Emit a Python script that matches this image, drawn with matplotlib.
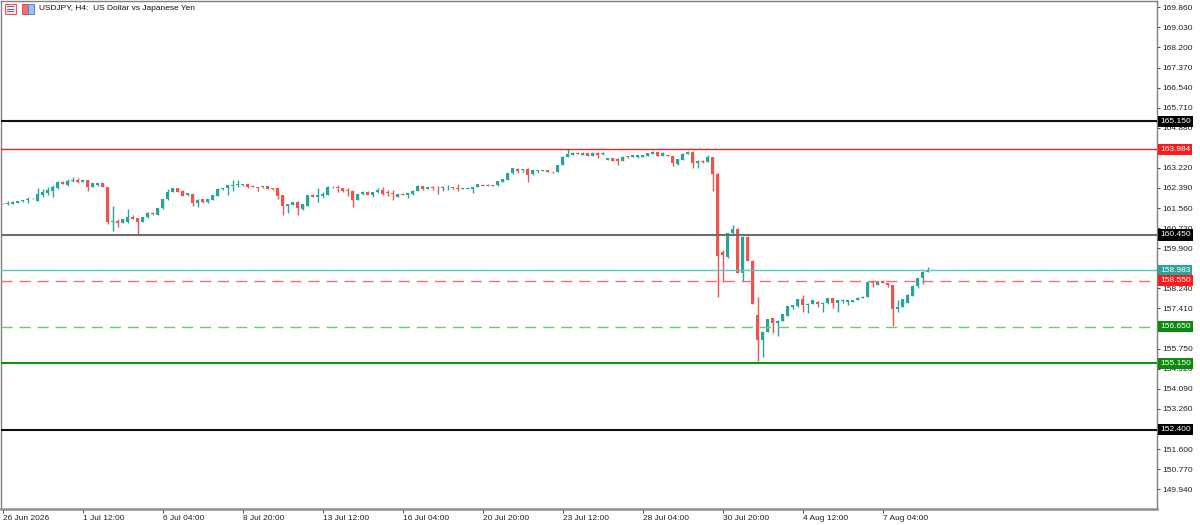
"""
USDJPY H4 candles with support / resistance levels, drawn the way the
trading terminal shows them.
"""

import numpy as np
import matplotlib
matplotlib.use("Agg")
import matplotlib.pyplot as plt
from matplotlib.patches import Rectangle
from matplotlib.transforms import blended_transform_factory


TITLE = "USDJPY, H4:  US Dollar vs Japanese Yen"

# OHLC of every H4 bar, oldest first
OPENS = [
    161.77, 161.72, 161.74, 161.79, 161.84, 161.88, 161.96, 161.87, 162.12, 162.17,
    162.28, 162.38, 162.64, 162.52, 162.68, 162.72, 162.65, 162.71, 162.45, 162.50,
    162.59, 162.42, 160.99, 161.04, 160.96, 161.00, 161.18, 161.14, 161.00, 161.18,
    161.37, 161.28, 161.55, 161.92, 162.24, 162.38, 162.27, 162.09, 162.13, 161.76,
    161.92, 161.81, 161.90, 162.06, 162.34, 162.37, 162.49, 162.50, 162.50, 162.54,
    162.49, 162.43, 162.42, 162.46, 162.40, 162.39, 162.10, 161.65, 161.68, 161.83,
    161.51, 161.66, 162.12, 162.03, 162.06, 162.10, 162.46, 162.45, 162.38, 162.31,
    162.28, 161.90, 162.13, 162.24, 162.12, 162.21, 162.31, 162.24, 162.20, 162.03,
    162.16, 162.09, 162.13, 162.27, 162.47, 162.35, 162.42, 162.45, 162.41, 162.42,
    162.42, 162.41, 162.34, 162.34, 162.34, 162.45, 162.53, 162.48, 162.52, 162.50,
    162.65, 162.72, 162.99, 163.18, 163.14, 163.18, 162.96, 163.10, 163.11, 163.14,
    163.07, 163.07, 163.33, 163.69, 163.75, 163.85, 163.75, 163.82, 163.73, 163.85,
    163.78, 163.55, 163.62, 163.59, 163.52, 163.71, 163.69, 163.66, 163.69, 163.73,
    163.80, 163.87, 163.71, 163.75, 163.71, 163.38, 163.55, 163.80, 163.89, 163.41,
    163.51, 163.48, 163.66, 162.97, 159.75, 159.55, 160.52, 160.70, 158.89, 160.38,
    159.39, 157.14, 156.11, 156.45, 157.00, 156.82, 156.90, 157.11, 157.48, 157.51,
    157.80, 157.55, 157.60, 157.69, 157.58, 157.62, 157.83, 157.62, 157.71, 157.69,
    157.69, 157.76, 157.86, 157.90, 158.55, 158.38, 158.55, 158.45, 158.38, 157.37,
    157.48, 157.65, 157.93, 158.34, 158.66, 158.92,
]
HIGHS = [
    161.78, 161.84, 161.85, 161.87, 161.91, 162.01, 161.99, 162.38, 162.34, 162.45,
    162.52, 162.66, 162.66, 162.75, 162.83, 162.79, 162.72, 162.73, 162.60, 162.60,
    162.60, 162.44, 161.65, 161.12, 161.12, 161.51, 161.28, 161.16, 161.19, 161.41,
    161.39, 161.57, 161.93, 162.34, 162.40, 162.40, 162.29, 162.19, 162.15, 161.92,
    161.94, 161.93, 162.12, 162.37, 162.39, 162.52, 162.72, 162.70, 162.56, 162.56,
    162.50, 162.44, 162.48, 162.48, 162.41, 162.40, 162.12, 161.74, 161.82, 161.84,
    161.73, 162.08, 162.13, 162.38, 162.24, 162.46, 162.48, 162.50, 162.39, 162.38,
    162.30, 162.15, 162.26, 162.26, 162.23, 162.38, 162.42, 162.31, 162.31, 162.15,
    162.17, 162.18, 162.29, 162.50, 162.49, 162.44, 162.48, 162.46, 162.48, 162.52,
    162.43, 162.56, 162.39, 162.41, 162.43, 162.56, 162.54, 162.54, 162.53, 162.69,
    162.76, 163.00, 163.21, 163.20, 163.19, 163.20, 163.15, 163.15, 163.15, 163.15,
    163.08, 163.36, 163.70, 163.99, 163.87, 163.87, 163.87, 163.84, 163.87, 163.87,
    163.87, 163.64, 163.64, 163.61, 163.71, 163.73, 163.77, 163.77, 163.77, 163.84,
    163.91, 163.89, 163.87, 163.77, 163.73, 163.59, 163.82, 163.91, 163.91, 163.54,
    163.53, 163.75, 163.68, 162.99, 159.83, 160.55, 160.86, 160.72, 160.40, 160.40,
    159.41, 157.90, 156.47, 156.98, 157.02, 156.92, 157.20, 157.53, 157.57, 157.82,
    157.97, 157.62, 157.78, 157.71, 157.67, 157.85, 157.85, 157.78, 157.79, 157.78,
    157.78, 157.88, 157.92, 158.54, 158.57, 158.55, 158.57, 158.47, 158.40, 157.76,
    157.81, 157.99, 158.36, 158.68, 158.95, 159.11,
]
LOWS = [
    161.74, 161.69, 161.73, 161.78, 161.83, 161.79, 161.94, 161.87, 162.03, 162.08,
    162.03, 162.36, 162.54, 162.47, 162.65, 162.61, 162.64, 162.28, 162.44, 162.49,
    162.44, 160.90, 160.63, 160.79, 160.94, 160.96, 161.10, 160.49, 160.98, 161.15,
    161.28, 161.27, 161.53, 161.90, 162.23, 162.22, 162.05, 162.07, 161.66, 161.62,
    161.79, 161.79, 161.88, 162.04, 162.32, 162.08, 162.28, 162.45, 162.49, 162.41,
    162.44, 162.27, 162.41, 162.33, 162.32, 161.92, 161.28, 161.37, 161.67, 161.28,
    161.50, 161.65, 162.00, 161.83, 161.97, 162.09, 162.38, 162.24, 162.21, 162.06,
    161.62, 161.88, 162.12, 162.09, 162.01, 162.17, 162.10, 162.06, 161.90, 162.01,
    162.09, 161.97, 162.12, 162.25, 162.32, 162.34, 162.31, 162.13, 162.28, 162.31,
    162.34, 162.28, 162.33, 162.33, 162.17, 162.44, 162.47, 162.47, 162.46, 162.49,
    162.64, 162.71, 162.98, 163.03, 163.04, 162.65, 162.94, 163.00, 163.10, 163.06,
    163.03, 163.06, 163.32, 163.69, 163.74, 163.79, 163.74, 163.70, 163.72, 163.62,
    163.77, 163.53, 163.50, 163.34, 163.50, 163.64, 163.68, 163.65, 163.68, 163.72,
    163.79, 163.70, 163.70, 163.70, 163.30, 163.36, 163.53, 163.79, 163.20, 163.23,
    163.44, 163.46, 162.28, 157.90, 158.52, 159.50, 160.50, 158.87, 158.56, 159.37,
    157.58, 155.25, 155.42, 156.43, 156.41, 156.27, 156.88, 157.09, 157.40, 157.49,
    157.28, 157.21, 157.58, 157.48, 157.28, 157.60, 157.42, 157.28, 157.62, 157.55,
    157.67, 157.74, 157.84, 157.88, 158.31, 158.36, 158.46, 158.31, 156.69, 157.28,
    157.46, 157.63, 157.91, 158.24, 158.42, 158.90,
]
CLOSES = [
    161.76, 161.79, 161.83, 161.85, 161.90, 161.95, 161.97, 162.14, 162.24, 162.31,
    162.42, 162.65, 162.56, 162.68, 162.72, 162.64, 162.71, 162.45, 162.59, 162.59,
    162.45, 161.00, 161.01, 160.96, 161.11, 161.18, 161.12, 161.00, 161.18, 161.34,
    161.30, 161.55, 161.92, 162.24, 162.38, 162.24, 162.06, 162.17, 161.76, 161.90,
    161.81, 161.92, 162.10, 162.35, 162.38, 162.50, 162.52, 162.56, 162.54, 162.42,
    162.45, 162.41, 162.47, 162.34, 162.34, 162.06, 161.65, 161.73, 161.81, 161.55,
    161.73, 162.08, 162.01, 162.09, 162.13, 162.45, 162.47, 162.38, 162.28, 162.27,
    161.90, 162.13, 162.24, 162.10, 162.23, 162.31, 162.13, 162.17, 162.14, 162.14,
    162.10, 162.17, 162.28, 162.49, 162.34, 162.43, 162.41, 162.42, 162.45, 162.45,
    162.38, 162.34, 162.38, 162.40, 162.42, 162.54, 162.49, 162.53, 162.47, 162.68,
    162.75, 162.99, 163.20, 163.11, 163.18, 162.93, 163.14, 163.14, 163.14, 163.07,
    163.04, 163.34, 163.68, 163.78, 163.85, 163.80, 163.85, 163.71, 163.85, 163.75,
    163.85, 163.62, 163.52, 163.51, 163.69, 163.66, 163.75, 163.75, 163.75, 163.82,
    163.89, 163.71, 163.85, 163.71, 163.41, 163.57, 163.80, 163.89, 163.41, 163.52,
    163.45, 163.69, 162.97, 159.58, 159.60, 160.52, 160.70, 158.89, 160.38, 159.39,
    157.60, 156.11, 156.45, 156.96, 156.82, 156.90, 157.18, 157.51, 157.55, 157.80,
    157.55, 157.60, 157.76, 157.58, 157.65, 157.83, 157.62, 157.76, 157.72, 157.76,
    157.76, 157.86, 157.90, 158.52, 158.48, 158.52, 158.48, 158.38, 157.37, 157.48,
    157.79, 157.97, 158.34, 158.66, 158.93, 158.98,
]

# time axis labels, one every 16 bars
DATE_LABELS = [
    "26 Jun 2026", "1 Jul 12:00", "6 Jul 04:00", "8 Jul 20:00",
    "13 Jul 12:00", "16 Jul 04:00", "20 Jul 20:00", "23 Jul 12:00",
    "28 Jul 04:00", "30 Jul 20:00", "4 Aug 12:00", "7 Aug 04:00",
]
DATE_STEP = 16

PRICE_TICKS = [
    169.860, 169.030, 168.200, 167.370, 166.540, 165.710, 164.880, 164.050,
    163.220, 162.390, 161.560, 160.730, 159.900, 159.070, 158.240, 157.410,
    156.580, 155.750, 154.920, 154.090, 153.260, 152.430, 151.600, 150.770,
    149.940,
]
# the terminal hides these scale labels behind the level boxes
HIDDEN_TICKS = [164.050, 159.070, 156.580, 152.430]

# horizontal levels drawn over the chart
LEVELS = [165.150, 163.984, 160.450, 158.983, 158.550, 156.650, 155.150, 152.400]

# styles for the levels above: line colour, width, dashed, label box colour
LEVEL_STYLES = [
    ("#111111", 1.5, False, "#000000"),
    ("#ee2222", 1.0, False, "#ff1a1a"),
    ("#6e6e6e", 1.5, False, "#000000"),
    ("#5cc6ba", 1.0, False, "#26a69a"),
    ("#f07070", 1.0, True, "#ff1a1a"),
    ("#70c870", 1.0, True, "#0b8a0b"),
    ("#119011", 1.5, False, "#0b8a0b"),
    ("#111111", 1.5, False, "#000000"),
]

GREEN = "#26a69a"
RED = "#ef5350"
FONT = "Liberation Sans"


def px(x, y):
    """Pixel position (from top left) to figure fraction."""
    return x / 1200, 1 - y / 525


def drawCandles(ax):
    o = np.array(OPENS)
    h = np.array(HIGHS)
    l = np.array(LOWS)
    c = np.array(CLOSES)
    x = np.arange(len(c))

    up = c >= o
    colors = np.where(up, GREEN, RED)

    ax.vlines(x, l, h, colors=colors, linewidth=1.0, zorder=2)
    bottoms = np.minimum(o, c)
    heights = np.maximum(np.abs(c - o), 0.03)
    ax.bar(x, heights, width=0.62, bottom=bottoms, color=colors,
           linewidth=0, zorder=3)


def drawLevels(ax):
    trans = blended_transform_factory(ax.transAxes, ax.transData)
    for level, (color, lw, dashed, boxColor) in zip(LEVELS, LEVEL_STYLES):
        ax.axhline(level, color=color, linewidth=lw,
                   linestyle=(0, (8, 5)) if dashed else "-", zorder=4)
        ax.text(1.0025, level, "{:.3f}".format(level), transform=trans,
                ha="left", va="center", color="white", fontsize=6,
                family=FONT, clip_on=False, zorder=10,
                bbox=dict(boxstyle="square,pad=0.25", fc=boxColor, ec="none"))


def drawHeader(fig):
    # the two little terminal icons before the symbol name
    x0, y0 = px(5, 14)
    fig.add_artist(Rectangle((x0, y0), 11 / 1200, 10 / 525,
                             transform=fig.transFigure, fc="#fde0e0",
                             ec="#e05a5a", lw=0.8))
    for row in (7, 9.5, 12):
        xa, ya = px(7, row)
        fig.add_artist(Rectangle((xa, ya), 7 / 1200, 0.8 / 525,
                                 transform=fig.transFigure, fc="#4a78c8",
                                 ec="none"))
    x1, y1 = px(22, 14)
    fig.add_artist(Rectangle((x1, y1), 6 / 1200, 10 / 525,
                             transform=fig.transFigure, fc="#f07070",
                             ec="#d04040", lw=0.6))
    x2, y2 = px(28, 14)
    fig.add_artist(Rectangle((x2, y2), 6 / 1200, 10 / 525,
                             transform=fig.transFigure, fc="#9cc0f0",
                             ec="#4a78c8", lw=0.6))

    tx, ty = px(39, 9)
    fig.text(tx, ty, TITLE, fontsize=6, family=FONT, va="center",
             ha="left", color="#111111")


def main():
    fig = plt.figure(figsize=(12, 5.25), dpi=100)
    ax = fig.add_axes([1 / 1200, 16 / 525, 1156 / 1200, 508 / 525])

    drawCandles(ax)
    drawLevels(ax)

    # 5 pixels per bar, bar 0 a couple of pixels from the left edge
    ax.set_xlim(-0.35, -0.35 + 1156 / 5)
    ax.set_ylim(149.12, 170.12)

    ax.yaxis.tick_right()
    ax.set_yticks(PRICE_TICKS)
    ax.set_yticklabels(["" if t in HIDDEN_TICKS else "{:.3f}".format(t)
                        for t in PRICE_TICKS])
    ax.tick_params(axis="y", length=2.5, width=0.6, pad=1, labelsize=6,
                   colors="#222222")

    ax.set_xticks([i * DATE_STEP for i in range(len(DATE_LABELS))])
    ax.set_xticklabels(DATE_LABELS)
    ax.tick_params(axis="x", length=3, width=0.6, pad=1.5, labelsize=6,
                   colors="#222222")
    for label in ax.get_xticklabels() + ax.get_yticklabels():
        label.set_family(FONT)
    for label in ax.get_xticklabels():
        label.set_horizontalalignment("left")

    for side in ("left", "top", "right"):
        ax.spines[side].set_color("#808080")
        ax.spines[side].set_linewidth(1.0)
    ax.spines["bottom"].set_color("#909090")
    ax.spines["bottom"].set_linewidth(1.8)

    drawHeader(fig)

    fig.savefig("out.png", dpi=100, facecolor="white")


if __name__ == "__main__":
    main()
